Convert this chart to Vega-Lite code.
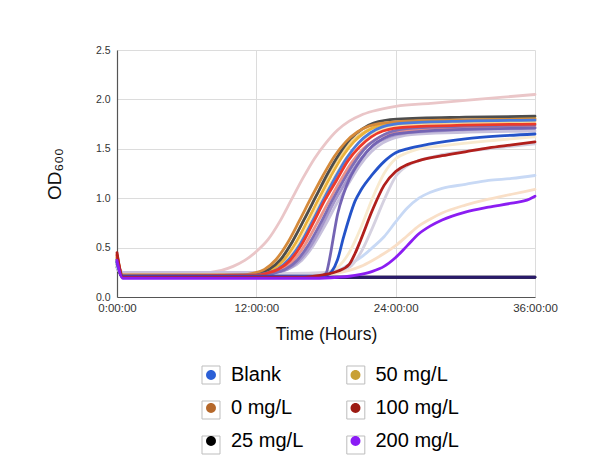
{
  "$schema": "https://vega.github.io/schema/vega-lite/v6.json",
  "width": 418,
  "height": 247,
  "autosize": {"type": "none"},
  "padding": {"left": 117, "top": 50, "right": 61, "bottom": 173},
  "background": "white",
  "config": {"view": {"stroke": null}, "font": "Liberation Sans"},
  "datasets": {
    "groups": [
      {"group": "Blank"}, {"group": "0 mg/L"}, {"group": "25 mg/L"},
      {"group": "50 mg/L"}, {"group": "100 mg/L"}, {"group": "200 mg/L"}
    ],
    "boxes": [
      {"box": "#Blank"}, {"box": "#0 mg/L"}, {"box": "#25 mg/L"},
      {"box": "#50 mg/L"}, {"box": "#100 mg/L"}, {"box": "#200 mg/L"}
    ],
    "curves": [
      {"series":"c01","hour":0,"od":0.3},{"series":"c01","hour":0.5,"od":0.2},{"series":"c01","hour":36,"od":0.2},
      {"series":"c02","hour":0,"od":0.35},{"series":"c02","hour":0.5,"od":0.2},{"series":"c02","hour":36,"od":0.2},
      {"series":"c03","hour":0,"od":0.3},{"series":"c03","hour":0.4,"od":0.23},{"series":"c03","hour":6,"od":0.23},{"series":"c03","hour":8,"od":0.25},{"series":"c03","hour":9,"od":0.27},{"series":"c03","hour":10,"od":0.31},{"series":"c03","hour":11,"od":0.37},{"series":"c03","hour":12,"od":0.46},{"series":"c03","hour":13,"od":0.58},{"series":"c03","hour":14,"od":0.76},{"series":"c03","hour":15,"od":0.98},{"series":"c03","hour":16,"od":1.2},{"series":"c03","hour":17,"od":1.4},{"series":"c03","hour":18,"od":1.56},{"series":"c03","hour":19,"od":1.69},{"series":"c03","hour":20,"od":1.78},{"series":"c03","hour":21,"od":1.84},{"series":"c03","hour":22,"od":1.88},{"series":"c03","hour":24,"od":1.93},{"series":"c03","hour":27,"od":1.96},{"series":"c03","hour":30,"od":1.99},{"series":"c03","hour":33,"od":2.02},{"series":"c03","hour":36,"od":2.05},
      {"series":"c04","hour":0,"od":0.32},{"series":"c04","hour":0.5,"od":0.22},{"series":"c04","hour":14,"od":0.22},{"series":"c04","hour":18,"od":0.23},{"series":"c04","hour":20,"od":0.27},{"series":"c04","hour":21,"od":0.31},{"series":"c04","hour":22,"od":0.37},{"series":"c04","hour":23,"od":0.44},{"series":"c04","hour":24,"od":0.52},{"series":"c04","hour":25,"od":0.62},{"series":"c04","hour":26,"od":0.72},{"series":"c04","hour":27,"od":0.79},{"series":"c04","hour":28,"od":0.85},{"series":"c04","hour":30,"od":0.93},{"series":"c04","hour":32,"od":0.99},{"series":"c04","hour":34,"od":1.04},{"series":"c04","hour":36,"od":1.09},
      {"series":"c05","hour":0,"od":0.3},{"series":"c05","hour":0.5,"od":0.22},{"series":"c05","hour":14,"od":0.22},{"series":"c05","hour":17,"od":0.23},{"series":"c05","hour":19,"od":0.27},{"series":"c05","hour":20,"od":0.33},{"series":"c05","hour":21,"od":0.4},{"series":"c05","hour":22,"od":0.5},{"series":"c05","hour":23,"od":0.61},{"series":"c05","hour":24,"od":0.76},{"series":"c05","hour":25,"od":0.9},{"series":"c05","hour":26,"od":1.0},{"series":"c05","hour":27,"od":1.06},{"series":"c05","hour":28,"od":1.1},{"series":"c05","hour":30,"od":1.14},{"series":"c05","hour":32,"od":1.18},{"series":"c05","hour":34,"od":1.2},{"series":"c05","hour":36,"od":1.23},
      {"series":"c06","hour":0,"od":0.35},{"series":"c06","hour":0.5,"od":0.22},{"series":"c06","hour":15,"od":0.22},{"series":"c06","hour":17,"od":0.23},{"series":"c06","hour":18,"od":0.25},{"series":"c06","hour":19,"od":0.3},{"series":"c06","hour":20,"od":0.45},{"series":"c06","hour":21,"od":0.7},{"series":"c06","hour":22,"od":1.0},{"series":"c06","hour":23,"od":1.25},{"series":"c06","hour":24,"od":1.4},{"series":"c06","hour":25,"od":1.46},{"series":"c06","hour":26,"od":1.5},{"series":"c06","hour":28,"od":1.53},{"series":"c06","hour":32,"od":1.58},{"series":"c06","hour":36,"od":1.62},
      {"series":"c07","hour":0,"od":0.33},{"series":"c07","hour":0.5,"od":0.24},{"series":"c07","hour":15,"od":0.24},{"series":"c07","hour":18,"od":0.25},{"series":"c07","hour":19,"od":0.27},{"series":"c07","hour":20,"od":0.3},{"series":"c07","hour":21,"od":0.45},{"series":"c07","hour":22,"od":0.7},{"series":"c07","hour":23,"od":0.98},{"series":"c07","hour":24,"od":1.22},{"series":"c07","hour":25,"od":1.33},{"series":"c07","hour":26,"od":1.38},{"series":"c07","hour":28,"od":1.44},{"series":"c07","hour":32,"od":1.5},{"series":"c07","hour":36,"od":1.55},
      {"series":"c08","hour":0,"od":0.36},{"series":"c08","hour":0.5,"od":0.25},{"series":"c08","hour":12.9,"od":0.25},{"series":"c08","hour":13.9,"od":0.26},{"series":"c08","hour":14.9,"od":0.29},{"series":"c08","hour":15.9,"od":0.37},{"series":"c08","hour":16.9,"od":0.52},{"series":"c08","hour":17.9,"od":0.72},{"series":"c08","hour":18.9,"od":0.94},{"series":"c08","hour":19.9,"od":1.14},{"series":"c08","hour":20.9,"od":1.33},{"series":"c08","hour":21.9,"od":1.47},{"series":"c08","hour":22.9,"od":1.56},{"series":"c08","hour":23.9,"od":1.61},{"series":"c08","hour":25.9,"od":1.65},{"series":"c08","hour":36,"od":1.68},
      {"series":"c09","hour":0,"od":0.38},{"series":"c09","hour":0.5,"od":0.23},{"series":"c09","hour":12.7,"od":0.23},{"series":"c09","hour":13.7,"od":0.25},{"series":"c09","hour":14.7,"od":0.28},{"series":"c09","hour":15.7,"od":0.37},{"series":"c09","hour":16.7,"od":0.52},{"series":"c09","hour":17.7,"od":0.73},{"series":"c09","hour":18.7,"od":0.96},{"series":"c09","hour":19.7,"od":1.16},{"series":"c09","hour":20.7,"od":1.35},{"series":"c09","hour":21.7,"od":1.49},{"series":"c09","hour":22.7,"od":1.58},{"series":"c09","hour":23.7,"od":1.63},{"series":"c09","hour":25.7,"od":1.67},{"series":"c09","hour":36,"od":1.71},
      {"series":"c10","hour":0,"od":0.34},{"series":"c10","hour":0.5,"od":0.22},{"series":"c10","hour":11.6,"od":0.22},{"series":"c10","hour":12.6,"od":0.24},{"series":"c10","hour":13.6,"od":0.28},{"series":"c10","hour":14.6,"od":0.37},{"series":"c10","hour":15.6,"od":0.53},{"series":"c10","hour":16.6,"od":0.75},{"series":"c10","hour":17.6,"od":0.98},{"series":"c10","hour":18.6,"od":1.19},{"series":"c10","hour":19.6,"od":1.38},{"series":"c10","hour":20.6,"od":1.53},{"series":"c10","hour":21.6,"od":1.63},{"series":"c10","hour":22.6,"od":1.69},{"series":"c10","hour":24.6,"od":1.73},{"series":"c10","hour":36,"od":1.76},
      {"series":"c11","hour":0,"od":0.36},{"series":"c11","hour":0.5,"od":0.22},{"series":"c11","hour":11,"od":0.22},{"series":"c11","hour":12,"od":0.24},{"series":"c11","hour":13,"od":0.28},{"series":"c11","hour":14,"od":0.37},{"series":"c11","hour":15,"od":0.54},{"series":"c11","hour":16,"od":0.76},{"series":"c11","hour":17,"od":0.99},{"series":"c11","hour":18,"od":1.2},{"series":"c11","hour":19,"od":1.4},{"series":"c11","hour":20,"od":1.55},{"series":"c11","hour":21,"od":1.65},{"series":"c11","hour":22,"od":1.71},{"series":"c11","hour":24,"od":1.75},{"series":"c11","hour":30,"od":1.77},{"series":"c11","hour":36,"od":1.78},
      {"series":"c12","hour":0,"od":0.4},{"series":"c12","hour":0.5,"od":0.22},{"series":"c12","hour":12.2,"od":0.22},{"series":"c12","hour":13.2,"od":0.24},{"series":"c12","hour":14.2,"od":0.28},{"series":"c12","hour":15.2,"od":0.37},{"series":"c12","hour":16.2,"od":0.53},{"series":"c12","hour":17.2,"od":0.74},{"series":"c12","hour":18.2,"od":0.96},{"series":"c12","hour":19.2,"od":1.17},{"series":"c12","hour":20.2,"od":1.36},{"series":"c12","hour":21.2,"od":1.5},{"series":"c12","hour":22.2,"od":1.59},{"series":"c12","hour":23.2,"od":1.65},{"series":"c12","hour":25.2,"od":1.69},{"series":"c12","hour":36,"od":1.72},
      {"series":"c13","hour":0,"od":0.35},{"series":"c13","hour":0.5,"od":0.21},{"series":"c13","hour":12.5,"od":0.22},{"series":"c13","hour":13.5,"od":0.24},{"series":"c13","hour":14.5,"od":0.28},{"series":"c13","hour":15.5,"od":0.37},{"series":"c13","hour":16.5,"od":0.53},{"series":"c13","hour":17.5,"od":0.74},{"series":"c13","hour":18.5,"od":0.97},{"series":"c13","hour":19.5,"od":1.18},{"series":"c13","hour":20.5,"od":1.37},{"series":"c13","hour":21.5,"od":1.52},{"series":"c13","hour":22.5,"od":1.61},{"series":"c13","hour":23.5,"od":1.67},{"series":"c13","hour":25.5,"od":1.71},{"series":"c13","hour":36,"od":1.74},
      {"series":"c14","hour":0,"od":0.33},{"series":"c14","hour":0.5,"od":0.21},{"series":"c14","hour":17.5,"od":0.21},{"series":"c14","hour":18,"od":0.24},{"series":"c14","hour":18.3,"od":0.38},{"series":"c14","hour":18.6,"od":0.58},{"series":"c14","hour":19,"od":0.84},{"series":"c14","hour":19.5,"od":1.04},{"series":"c14","hour":20,"od":1.19},{"series":"c14","hour":21,"od":1.39},{"series":"c14","hour":22,"od":1.53},{"series":"c14","hour":23,"od":1.61},{"series":"c14","hour":24,"od":1.65},{"series":"c14","hour":28,"od":1.69},{"series":"c14","hour":36,"od":1.71},
      {"series":"c15","hour":0,"od":0.4},{"series":"c15","hour":0.5,"od":0.22},{"series":"c15","hour":11.4,"od":0.22},{"series":"c15","hour":12.4,"od":0.24},{"series":"c15","hour":13.4,"od":0.28},{"series":"c15","hour":14.4,"od":0.38},{"series":"c15","hour":15.4,"od":0.55},{"series":"c15","hour":16.4,"od":0.77},{"series":"c15","hour":17.4,"od":1.0},{"series":"c15","hour":18.4,"od":1.22},{"series":"c15","hour":19.4,"od":1.42},{"series":"c15","hour":20.4,"od":1.57},{"series":"c15","hour":21.4,"od":1.67},{"series":"c15","hour":22.4,"od":1.73},{"series":"c15","hour":24.4,"od":1.77},{"series":"c15","hour":30,"od":1.79},{"series":"c15","hour":36,"od":1.81},
      {"series":"c16","hour":0,"od":0.38},{"series":"c16","hour":0.5,"od":0.21},{"series":"c16","hour":11.1,"od":0.22},{"series":"c16","hour":12.1,"od":0.24},{"series":"c16","hour":13.1,"od":0.28},{"series":"c16","hour":14.1,"od":0.38},{"series":"c16","hour":15.1,"od":0.56},{"series":"c16","hour":16.1,"od":0.78},{"series":"c16","hour":17.1,"od":1.01},{"series":"c16","hour":18.1,"od":1.24},{"series":"c16","hour":19.1,"od":1.44},{"series":"c16","hour":20.1,"od":1.6},{"series":"c16","hour":21.1,"od":1.7},{"series":"c16","hour":22.1,"od":1.76},{"series":"c16","hour":24.1,"od":1.8},{"series":"c16","hour":30,"od":1.82},{"series":"c16","hour":36,"od":1.83},
      {"series":"c17","hour":0,"od":0.43},{"series":"c17","hour":0.5,"od":0.22},{"series":"c17","hour":10.7,"od":0.22},{"series":"c17","hour":11.7,"od":0.24},{"series":"c17","hour":12.7,"od":0.28},{"series":"c17","hour":13.7,"od":0.38},{"series":"c17","hour":14.7,"od":0.55},{"series":"c17","hour":15.7,"od":0.77},{"series":"c17","hour":16.7,"od":1.0},{"series":"c17","hour":17.7,"od":1.22},{"series":"c17","hour":18.7,"od":1.42},{"series":"c17","hour":19.7,"od":1.57},{"series":"c17","hour":20.7,"od":1.67},{"series":"c17","hour":21.7,"od":1.73},{"series":"c17","hour":23.7,"od":1.77},{"series":"c17","hour":28,"od":1.79},{"series":"c17","hour":36,"od":1.8},
      {"series":"c18","hour":0,"od":0.35},{"series":"c18","hour":0.5,"od":0.21},{"series":"c18","hour":11.8,"od":0.22},{"series":"c18","hour":12.8,"od":0.24},{"series":"c18","hour":13.8,"od":0.28},{"series":"c18","hour":14.8,"od":0.38},{"series":"c18","hour":15.8,"od":0.54},{"series":"c18","hour":16.8,"od":0.76},{"series":"c18","hour":17.8,"od":0.99},{"series":"c18","hour":18.8,"od":1.21},{"series":"c18","hour":19.8,"od":1.41},{"series":"c18","hour":20.8,"od":1.56},{"series":"c18","hour":21.8,"od":1.66},{"series":"c18","hour":22.8,"od":1.72},{"series":"c18","hour":24.8,"od":1.76},{"series":"c18","hour":30,"od":1.78},{"series":"c18","hour":36,"od":1.79},
      {"series":"c19","hour":0,"od":0.42},{"series":"c19","hour":0.5,"od":0.21},{"series":"c19","hour":11.9,"od":0.22},{"series":"c19","hour":12.9,"od":0.24},{"series":"c19","hour":13.9,"od":0.28},{"series":"c19","hour":14.9,"od":0.37},{"series":"c19","hour":15.9,"od":0.53},{"series":"c19","hour":16.9,"od":0.75},{"series":"c19","hour":17.9,"od":0.98},{"series":"c19","hour":18.9,"od":1.18},{"series":"c19","hour":19.9,"od":1.38},{"series":"c19","hour":20.9,"od":1.52},{"series":"c19","hour":21.9,"od":1.62},{"series":"c19","hour":22.9,"od":1.68},{"series":"c19","hour":24.9,"od":1.72},{"series":"c19","hour":36,"od":1.75},
      {"series":"c20","hour":0,"od":0.36},{"series":"c20","hour":0.5,"od":0.21},{"series":"c20","hour":16,"od":0.21},{"series":"c20","hour":17,"od":0.21},{"series":"c20","hour":18,"od":0.22},{"series":"c20","hour":18.5,"od":0.26},{"series":"c20","hour":19,"od":0.38},{"series":"c20","hour":19.5,"od":0.6},{"series":"c20","hour":20,"od":0.8},{"series":"c20","hour":20.5,"od":0.97},{"series":"c20","hour":21,"od":1.08},{"series":"c20","hour":22,"od":1.24},{"series":"c20","hour":23,"od":1.37},{"series":"c20","hour":24,"od":1.46},{"series":"c20","hour":25,"od":1.5},{"series":"c20","hour":27,"od":1.55},{"series":"c20","hour":30,"od":1.6},{"series":"c20","hour":33,"od":1.63},{"series":"c20","hour":36,"od":1.65},
      {"series":"c21","hour":0,"od":0.45},{"series":"c21","hour":0.5,"od":0.2},{"series":"c21","hour":16,"od":0.2},{"series":"c21","hour":17,"od":0.21},{"series":"c21","hour":18,"od":0.23},{"series":"c21","hour":19,"od":0.26},{"series":"c21","hour":20,"od":0.33},{"series":"c21","hour":20.5,"od":0.44},{"series":"c21","hour":21,"od":0.58},{"series":"c21","hour":22,"od":0.88},{"series":"c21","hour":23,"od":1.13},{"series":"c21","hour":24,"od":1.27},{"series":"c21","hour":25,"od":1.34},{"series":"c21","hour":26,"od":1.38},{"series":"c21","hour":28,"od":1.43},{"series":"c21","hour":30,"od":1.47},{"series":"c21","hour":32,"od":1.51},{"series":"c21","hour":34,"od":1.54},{"series":"c21","hour":36,"od":1.57},
      {"series":"c22","hour":0,"od":0.37},{"series":"c22","hour":0.5,"od":0.19},{"series":"c22","hour":17,"od":0.19},{"series":"c22","hour":19,"od":0.2},{"series":"c22","hour":20,"od":0.21},{"series":"c22","hour":21,"od":0.23},{"series":"c22","hour":22,"od":0.26},{"series":"c22","hour":23,"od":0.31},{"series":"c22","hour":24,"od":0.4},{"series":"c22","hour":25,"od":0.52},{"series":"c22","hour":26,"od":0.64},{"series":"c22","hour":27,"od":0.72},{"series":"c22","hour":28,"od":0.78},{"series":"c22","hour":30,"od":0.86},{"series":"c22","hour":32,"od":0.91},{"series":"c22","hour":34,"od":0.95},{"series":"c22","hour":35.5,"od":0.99},{"series":"c22","hour":36,"od":1.02}
    ]
  },
  "layer": [
    {
      "data": {"name": "curves"},
      "mark": {"type": "line", "strokeWidth": 2.8, "interpolate": "monotone", "strokeCap": "round", "strokeJoin": "round"},
      "encoding": {
        "x": {
          "field": "hour", "type": "quantitative",
          "scale": {"domain": [0, 36], "nice": false},
          "axis": {
            "values": [0, 12, 24, 36], "labelExpr": "datum.value + ':00:00'",
            "title": "Time (Hours)", "titleFont": "Liberation Sans", "titleFontSize": 17.5, "titleFontWeight": "normal", "titleColor": "#111", "titlePadding": 12,
            "labelFont": "Liberation Sans", "labelFontSize": 11.5, "labelColor": "#333", "labelPadding": 5, "labelFlush": false,
            "ticks": false, "domainColor": "#555", "domainWidth": 1.2, "gridColor": "#dcdcdc", "gridWidth": 1
          }
        },
        "y": {
          "field": "od", "type": "quantitative",
          "scale": {"domain": [0, 2.5], "nice": false},
          "axis": {
            "values": [0, 0.5, 1, 1.5, 2, 2.5], "format": ".1f",
            "title": "OD₆₀₀", "titleFont": "Liberation Sans", "titleFontSize": 19, "titleFontWeight": "normal", "titleColor": "#111", "titlePadding": 31,
            "labelFont": "Liberation Sans", "labelFontSize": 10.5, "labelColor": "#333", "labelPadding": 7, "labelFlush": false,
            "ticks": false, "domainColor": "#555", "domainWidth": 1.2, "gridColor": "#dcdcdc", "gridWidth": 1
          }
        },
        "color": {
          "field": "series", "type": "nominal", "legend": null,
          "scale": {
            "domain": ["c01","c02","c03","c04","c05","c06","c07","c08","c09","c10","c11","c12","c13","c14","c15","c16","c17","c18","c19","c20","c21","c22"],
            "range": ["#000000","#2a1b6b","#eac6c8","#f9dfc7","#c8d9f5","#f8eacf","#d5d1e0","#c7c0dc","#a597cb","#fae6b3","#f6d48a","#e8938c","#7e6db6","#7464b4","#ebb23a","#4d4d4d","#d58a3b","#4a7bdc","#ec3a2b","#2453c9","#b11f1c","#8b1df2"]
          }
        }
      }
    },
    {
      "data": {"name": "boxes"},
      "mark": {"type": "point", "filled": false, "opacity": 0, "shape": "square"},
      "encoding": {
        "stroke": {
          "field": "box", "type": "nominal",
          "scale": {
            "domain": ["#Blank", "#0 mg/L", "#25 mg/L", "#50 mg/L", "#100 mg/L", "#200 mg/L"],
            "range": ["#bdbdbd", "#bdbdbd", "#bdbdbd", "#bdbdbd", "#bdbdbd", "#bdbdbd"]
          },
          "legend": {
            "orient": "none", "legendX": 84, "legendY": 315, "columns": 2, "columnPadding": 113.8, "rowPadding": 13,
            "title": null, "padding": 0, "symbolSize": 324, "symbolStrokeWidth": 1, "symbolOffset": 0,
            "labelFont": "Liberation Sans", "labelFontSize": 20, "labelOffset": 10,
            "labelExpr": "''",
            "encode": {"symbols": {"update": {"opacity": {"value": 1}, "strokeOpacity": {"value": 1}, "fill": {"value": "transparent"}, "stroke": {"value": "#bdbdbd"}, "strokeWidth": {"value": 1}}}}
          }
        }
      }
    },
    {
      "data": {"name": "groups"},
      "mark": {"type": "point", "filled": true, "opacity": 0, "shape": "M-0.55,0A0.55,0.55,0,1,1,0.55,0A0.55,0.55,0,1,1,-0.55,0Z"},
      "encoding": {
        "fill": {
          "field": "group", "type": "nominal",
          "scale": {
            "domain": ["Blank", "0 mg/L", "25 mg/L", "50 mg/L", "100 mg/L", "200 mg/L"],
            "range": ["#2b5fd6", "#b5682b", "#000000", "#c8a035", "#9c1a12", "#8a1cf5"]
          },
          "legend": {
            "orient": "none", "legendX": 84, "legendY": 315, "columns": 2, "columnPadding": 41.5, "rowPadding": 13,
            "title": null, "padding": 0, "symbolSize": 324, "symbolStrokeWidth": 1, "symbolOffset": 0,
            "labelFont": "Liberation Sans", "labelFontSize": 20, "labelColor": "#000", "labelOffset": 10,
            "encode": {"symbols": {"update": {"opacity": {"value": 1}, "stroke": {"value": "transparent"}}}}
          }
        }
      }
    }
  ]
}
